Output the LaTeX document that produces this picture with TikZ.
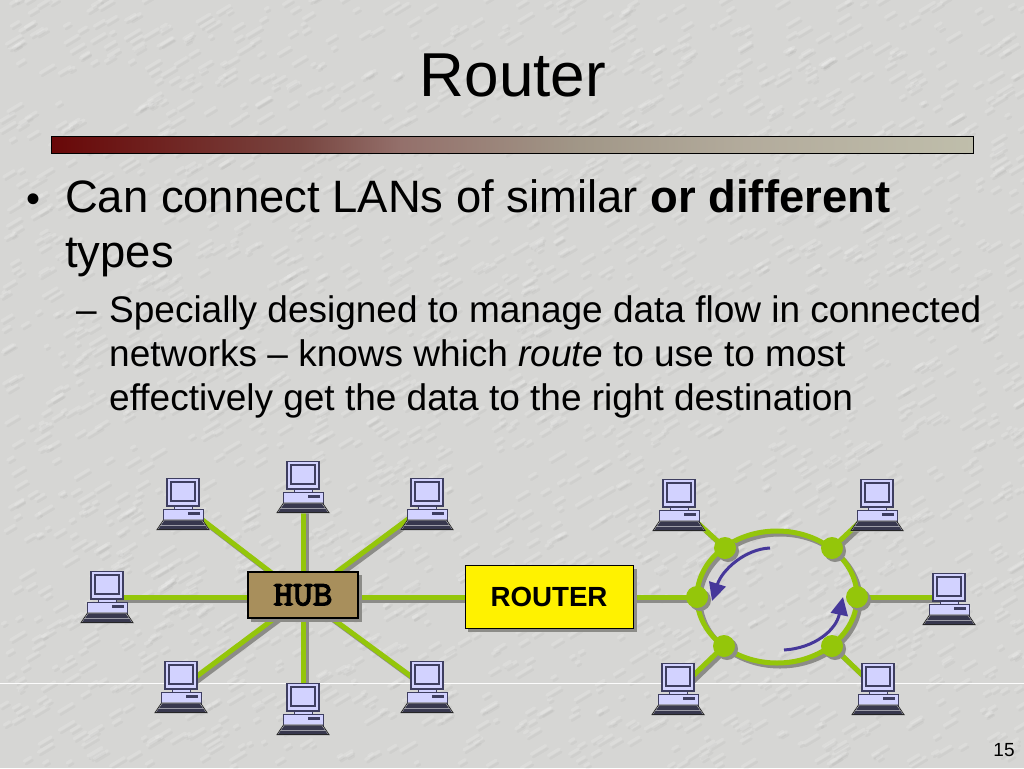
\documentclass[tikz,border=0pt]{standalone}
\usepackage{fontspec}
\setmainfont{Liberation Sans}
\newfontfamily\hubfont[FakeBold=4,FakeStretch=1.12]{Latin Modern Mono}
\usetikzlibrary{arrows.meta}
\definecolor{bgc}{HTML}{D6D6D4}
\definecolor{wirec}{HTML}{94C60A}
\definecolor{shadowc}{HTML}{8C8C88}
\definecolor{monc}{HTML}{D2D2FF}
\definecolor{pcline}{HTML}{3E3E60}
\definecolor{kbc}{HTML}{38384E}
\definecolor{hubfill}{HTML}{A88F5C}
\definecolor{flowc}{HTML}{46389A}
\pgfdeclarehorizontalshading{barshade}{100bp}{
  rgb(0bp)=(0.41,0.03,0.03);
  rgb(25bp)=(0.41,0.03,0.03);
  rgb(38.5bp)=(0.47,0.27,0.25);
  rgb(44bp)=(0.58,0.44,0.42);
  rgb(53.5bp)=(0.63,0.59,0.53);
  rgb(62.5bp)=(0.70,0.67,0.61);
  rgb(75bp)=(0.75,0.745,0.67);
  rgb(100bp)=(0.75,0.745,0.67)}
\tikzset{
  x=1pt,y=-1pt,
  wire/.style={draw=wirec,line width=5pt,preaction={draw=shadowc,line width=5pt,transform canvas={xshift=3pt,yshift=-3pt}}},
  ringnode/.style={circle,fill=wirec,minimum size=22pt,inner sep=0pt,outer sep=0pt},
  ringshadow/.style={circle,fill=shadowc,minimum size=22pt,inner sep=0pt},
  flow/.style={draw=flowc,line width=3pt,-{Triangle[length=18pt,width=17pt,fill=flowc]}},
  boxshadow/.style={fill=shadowc,draw=none},
  hubbox/.style={draw=black,line width=1.2pt,fill=hubfill,minimum width=110pt,minimum height=46pt,inner sep=0pt,font=\hubfont\fontsize{34}{34}\selectfont},
  routerbox/.style={draw=black,line width=1pt,fill=yellow,minimum width=168pt,minimum height=63pt,inner sep=0pt,font=\bfseries\fontsize{27.7}{30}\selectfont},
  line1/.style={anchor=base west,inner sep=0pt,font=\fontsize{45.4}{48}\selectfont},
  line2/.style={anchor=base west,inner sep=0pt,font=\fontsize{37}{40}\selectfont},
  pics/computer/.style={code={
    \draw[draw=pcline,line width=.9pt,fill=monc] (-9,1) rectangle (9,4);
    \draw[draw=pcline,line width=1.3pt,fill=monc] (-16,-26.5) rectangle (16,1);
    \draw[draw=pcline,line width=1.1pt,fill=monc] (-12,-23) rectangle (12,-4);
    \draw[draw=pcline,line width=.9pt,fill=monc] (-20,4) rectangle (20,15);
    \fill[pcline] (5,7) rectangle (17,9.5);
    \draw[draw=white,line width=.7pt,fill=kbc,line join=round] (-19,15) -- (19,15) -- (26,25) -- (-26,25) -- cycle;
    \draw[draw=black!85,line width=.8pt] (-19.5,15) -- (19.5,15) -- (26,24.6) -- (-26,24.6) -- cycle;
    \draw[white!50!kbc,line width=.5pt] (-22,20) -- (22,20);
  }}
}
\begin{document}
\begin{tikzpicture}
\useasboundingbox (0,0) rectangle (1024,768);
\fill[bgc] (0,0) rectangle (1024,768);
\begin{scope}
\clip (0,0) rectangle (1024,768);
\pgfmathsetseed{42}
\foreach \i in {1,...,2400}{
  \pgfmathsetmacro{\px}{rnd*1024}
  \pgfmathsetmacro{\py}{rnd*768}
  \pgfmathsetmacro{\pl}{3+rnd*12}
  \draw[white,opacity=.16,line width=3pt,line cap=round] (\px,\py) -- ++(\pl,-0.6*\pl);
  \draw[black,opacity=.03,line width=2.5pt,line cap=round] (\px+2,\py+3) -- ++(\pl,-0.6*\pl);
}
\end{scope}
\draw[white!92!bgc,line width=1pt] (0,683) -- (1024,683);

% title and rule
\node[anchor=base,inner sep=0pt,font=\fontsize{62}{70}\selectfont] (title) at (513,96) {Router};
\shade[shading=barshade,shading angle=0,draw=black,line width=.9pt] (51,136) rectangle (973,153);

% text
\node[anchor=base west,inner sep=0pt,font=\fontsize{40}{40}\selectfont] (b1) at (26,212) {•};
\node[line1] (t1) at (65,212) {Can connect LANs of similar \textbf{or different}};
\node[line1] (t2) at (65,267) {types};
\node[line2] (d1) at (76,322) {–};
\node[line2] (s1) at (109,322) {Specially designed to manage data flow in connected};
\node[line2] (s2) at (109,366) {networks – knows which \textit{route} to use to most};
\node[line2] (s3) at (109,410) {effectively get the data to the right destination};
\node[inner sep=0pt,font=\fontsize{19}{22}\selectfont] (pageno) at (1004,750) {15};

% anchors
\coordinate (c1) at (183,505);
\coordinate (c2) at (303,488);
\coordinate (c3) at (427,505);
\coordinate (c4) at (107,598);
\coordinate (c5) at (181,688);
\coordinate (c6) at (303,710);
\coordinate (c7) at (427,688);
\coordinate (c8) at (679,506);
\coordinate (c9) at (877,506);
\coordinate (c10) at (949,600);
\coordinate (c11) at (678,690);
\coordinate (c12) at (878,690);
\coordinate (hubw) at (303,597);
\coordinate (routerc) at (549,597);
\coordinate (ringc) at (777,597);
\coordinate (r1) at (725,548);
\coordinate (r2) at (832,548);
\coordinate (r3) at (697,597);
\coordinate (r4) at (857,597);
\coordinate (r5) at (724,646);
\coordinate (r6) at (832,646);

% connectors
\foreach \c in {c1,c2,c3,c5,c6,c7}{\draw[wire] (hubw) -- (\c);}
\draw[wire] (hubw) -- (hubw -| c4);
\draw[wire] (hubw) -- (routerc);
\draw[wire] (routerc) -- (r3);
\draw[wire] (r1) -- (c8);
\draw[wire] (r2) -- (c9);
\draw[wire] (r4) -- (r4 -| c10);
\draw[wire] (r5) -- (c11);
\draw[wire] (r6) -- (c12);
\draw[wire] (ringc) ellipse [x radius=80,y radius=66];

% computers
\foreach \c in {c1,c2,c3,c4,c5,c6,c7,c8,c9,c10,c11,c12}{\pic at (\c) {computer};}

% ring junctions
\foreach \r in {r1,r2,r3,r4,r5,r6}{
  \node[ringshadow,xshift=3pt,yshift=-3pt] (\r s) at (\r) {};
  \node[ringnode] (\r n) at (\r) {};
}

% hub and router
\fill[boxshadow] (251,575) rectangle (362,622);
\node[hubbox] (hub) at (303,595) {HUB};
\fill[boxshadow] (468,569) rectangle (637,632);
\node[routerbox] (router) at (routerc) {ROUTER};

% flow arrows
\coordinate (f1a) at (770,548);
\coordinate (f1b) at (712,601);
\coordinate (f2a) at (784,650);
\coordinate (f2b) at (843,597);
\draw[flow] (f1a) .. controls (745,549) and (722,570) .. (f1b);
\draw[flow] (f2a) .. controls (815,648) and (836,630) .. (f2b);
\end{tikzpicture}
\end{document}
